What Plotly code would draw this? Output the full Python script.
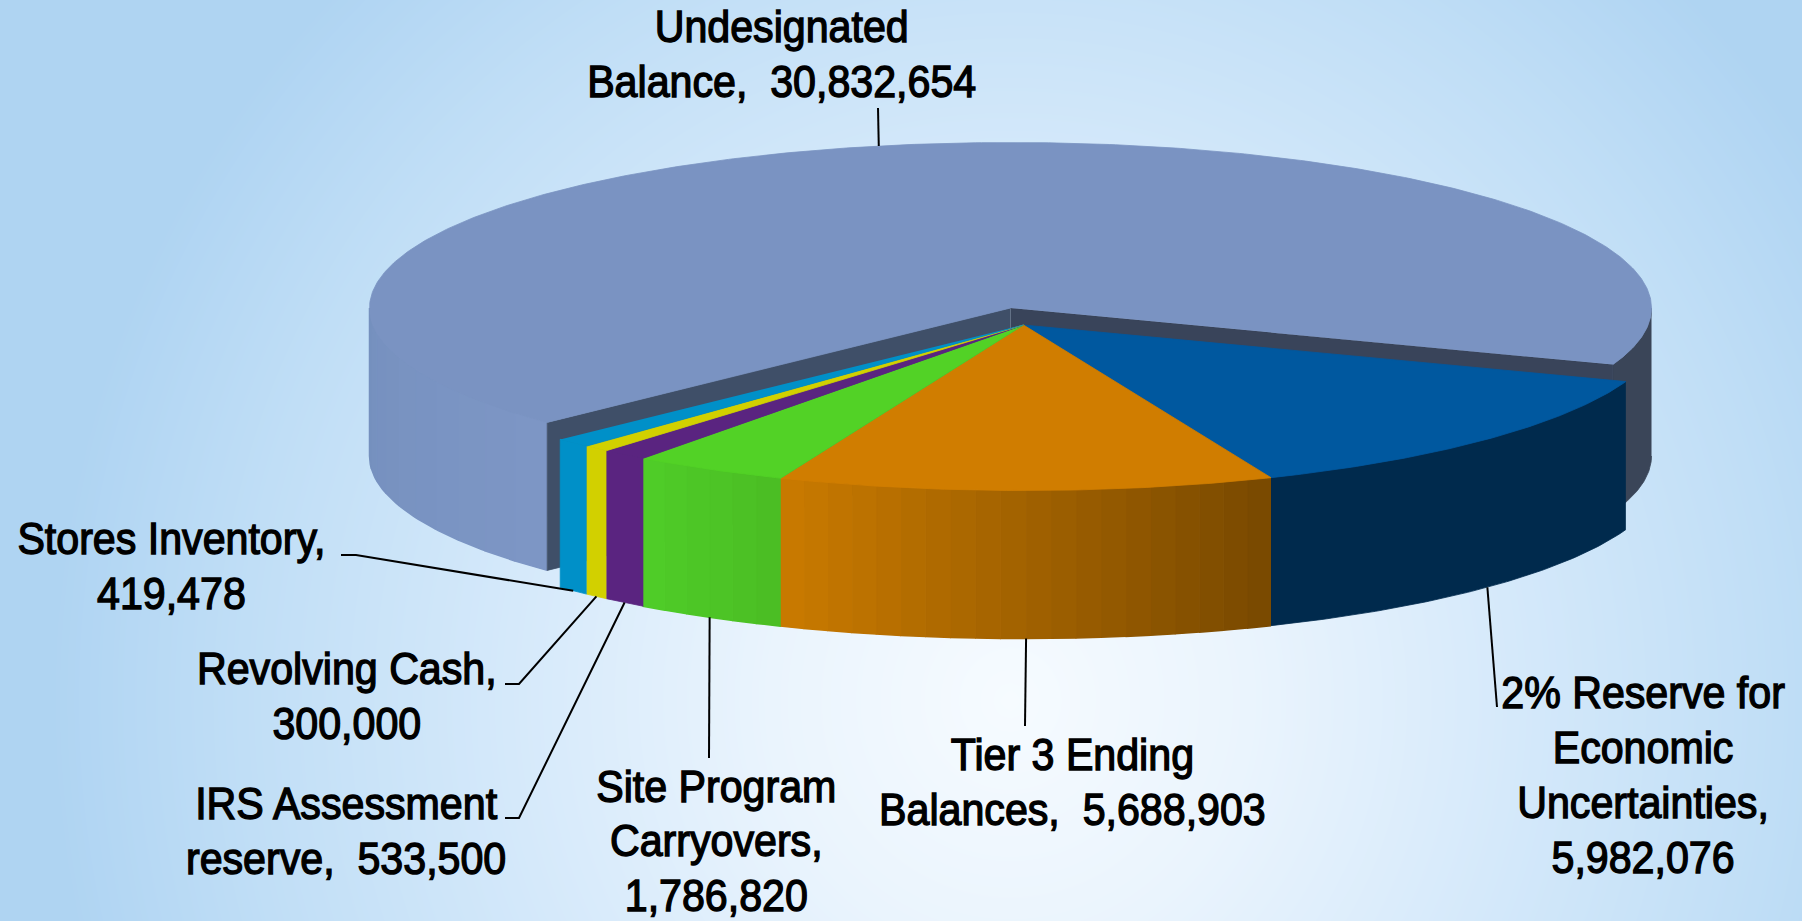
import math
import numpy as np
import plotly.graph_objects as go

# ---------- data ----------
categories = ["2% Reserve for Economic Uncertainties", "Tier 3 Ending Balances",
              "Site Program Carryovers", "IRS Assessment reserve", "Revolving Cash",
              "Stores Inventory", "Undesignated Balance"]
values = [5982076, 5688903, 1786820, 533500, 300000, 419478, 30832654]
label_text = ["2% Reserve for<br>Economic<br>Uncertainties,<br>{}",
              "Tier 3 Ending<br>Balances,\u00a0\u00a0{}",
              "Site Program<br>Carryovers,<br>{}",
              "IRS Assessment<br>reserve,\u00a0\u00a0{}",
              "Revolving Cash,<br>{}",
              "Stores Inventory,<br>{}",
              "Undesignated<br>Balance,\u00a0\u00a0{}"]

# ---------- styles and layout ----------
W, H = 1802, 921
top_colors = ["#00589F", "#D07D00", "#52D226", "#5A2480", "#D2D000", "#0090C8", "#7A93C2"]
wall_left = ["#002A4D", "#C87900", "#4FCC28", "#5A2480", "#D2D000", "#0090C8", "#7590BE"]
wall_right = ["#002A4D", "#7A4A00", "#4BBE24", "#5A2480", "#D2D000", "#0090C8", "#7D96C5"]
START = 20.0          # degrees, clockwise on screen from +x
RX, RY, DEPTH = 641.0, 165.5, 148.0
CENTER_REST = (1023.5, 325.0)
CENTER_BIG = (1010.5, 308.0)
CUT_L, CUT_R = "#3F4F68", "#39445A"
WALL_BIG_R = "#3A4558"
label_pos = [(1643, 775), (1072, 782), (716, 841), (346, 831), (347, 696), (171, 566), (781, 54)]
# elbow points of the leader lines, ending at the label side
elbows = [[(1497, 707)], [(1025, 726)], [(709, 758)],
          [(519, 818), (505, 818)], [(519, 684), (505, 684)], [(356, 555), (341, 555)],
          [(878, 108)]]

FONT = "Liberation Sans, Arial, sans-serif"
FONT_SIZE = 45
TEXT_SCALE = 0.915
TEXT_STROKE = 1.4
LINE_EM = 1.22


def rim(center, a_deg, depth=0.0):
    t = math.radians(a_deg)
    return center[0] + RX * math.cos(t), center[1] + RY * math.sin(t) + depth


def arc(center, a0, a1, depth=0.0, step=0.5):
    n = max(2, int(abs(a1 - a0) / step) + 1)
    pts = [rim(center, a, depth) for a in np.linspace(a0, a1, n)]
    return [p[0] for p in pts], [p[1] for p in pts]


def hex_mix(c0, c1, f):
    a = [int(c0[i:i + 2], 16) for i in (1, 3, 5)]
    b = [int(c1[i:i + 2], 16) for i in (1, 3, 5)]
    return "#%02X%02X%02X" % tuple(round(a[k] + (b[k] - a[k]) * f) for k in range(3))


fig = go.Figure()


def poly(xs, ys, color, width=0.8):
    fig.add_trace(go.Scatter(x=list(xs), y=list(ys), mode="lines", fill="toself",
                             fillcolor=color, line=dict(color=color, width=width),
                             hoverinfo="skip", showlegend=False))


def wall(center, a0, a1, c0, c1, bands=1):
    edges = np.linspace(a0, a1, bands + 1)
    for i in range(bands):
        x0, y0 = arc(center, edges[i], edges[i + 1])
        x1, y1 = arc(center, edges[i + 1], edges[i], DEPTH)
        poly(x0 + x1, y0 + y1, hex_mix(c0, c1, i / max(1, bands - 1)), width=1.5 if bands > 1 else 0.8)


# ---------- background ----------
gx = np.linspace(0, W, 181)
gy = np.linspace(0, H, 93)
XX, YY = np.meshgrid(gx, gy)
dist = np.clip(np.sqrt(((XX - 1010) / 960) ** 2 + ((YY - 700) / 1000) ** 2), 0, 1)
fig.add_trace(go.Heatmap(x=gx, y=gy, z=dist, zmin=0, zmax=1, showscale=False, hoverinfo="skip",
                         zsmooth="best",
                         colorscale=[[0, "#F6FBFF"], [0.25, "#EAF4FD"], [0.55, "#D3E8FA"],
                                     [0.8, "#C0DEF6"], [1, "#AFD4F2"]]))

# ---------- angles from the values ----------
total = sum(values)
angles = [START]
for v in values:
    angles.append(angles[-1] + v / total * 360.0)
big = len(values) - 1
a_big0, a_big1 = angles[big], angles[big + 1]

# ---------- undesignated slice (pulled away) ----------
wall(CENTER_BIG, a_big0, 180, wall_right[big], wall_left[big], bands=10)
wall(CENTER_BIG, 0, a_big1 - 360, WALL_BIG_R, WALL_BIG_R)
for ang, col in ((a_big0, CUT_L), (a_big1, CUT_R)):
    rx, ry = rim(CENTER_BIG, ang)
    poly([CENTER_BIG[0], rx, rx, CENTER_BIG[0]],
         [CENTER_BIG[1], ry, ry + DEPTH, CENTER_BIG[1] + DEPTH], col)
xs, ys = arc(CENTER_BIG, a_big0, a_big1)
poly([CENTER_BIG[0]] + xs, [CENTER_BIG[1]] + ys, top_colors[big])

# ---------- remaining slices ----------
for i in range(big):
    bands = 20 if i == 1 else (6 if i == 2 else 1)
    wall(CENTER_REST, angles[i], angles[i + 1], wall_right[i], wall_left[i], bands=bands)
for i in range(big):
    xs, ys = arc(CENTER_REST, angles[i], angles[i + 1])
    poly([CENTER_REST[0]] + xs, [CENTER_REST[1]] + ys, top_colors[i])

# ---------- leader lines and labels ----------
for i, cat in enumerate(categories):
    mid = (angles[i] + angles[i + 1]) / 2
    if i == big:
        ax, ay = rim(CENTER_BIG, mid)
    else:
        ax, ay = rim(CENTER_REST, mid, DEPTH)
    pts = [(ax, ay)] + elbows[i]
    fig.add_trace(go.Scatter(x=[p[0] for p in pts], y=[p[1] for p in pts], mode="lines",
                             line=dict(color="#000000", width=2), hoverinfo="skip",
                             showlegend=False, name=cat))
    fig.add_annotation(x=label_pos[i][0], y=label_pos[i][1], xref="x", yref="y",
                       text=label_text[i].format(f"{values[i]:,}"),
                       showarrow=False, align="center", xanchor="center", yanchor="middle",
                       font=dict(family=FONT, size=FONT_SIZE, color="#000000"))

fig.update_layout(width=W, height=H, margin=dict(l=0, r=0, t=0, b=0), showlegend=False,
                  paper_bgcolor="#BCDBF5", plot_bgcolor="rgba(0,0,0,0)",
                  xaxis=dict(range=[0, W], visible=False, fixedrange=True),
                  yaxis=dict(range=[H, 0], visible=False, fixedrange=True))

narrow_js = """
document.body.style.margin='0';document.body.style.overflow='hidden';
document.querySelectorAll('.annotation-text').forEach(function(t){
  var b0=t.getBBox(), cy0=b0.y+b0.height/2;
  t.querySelectorAll('tspan.line').forEach(function(l){
    var d=parseFloat(l.getAttribute('dy')||'0');
    l.setAttribute('dy',(d/1.3*%s)+'em');
  });
  var b=t.getBBox(), cx=b.x+b.width/2, cy=b.y+b.height/2, prev=t.getAttribute('transform')||'';
  t.setAttribute('transform', prev+' translate('+cx+','+(cy0-cy)+') scale(%s,1) translate('+(-cx)+',0)');
  t.style.stroke='#000'; t.style.strokeWidth='%spx';
});
""" % (LINE_EM, TEXT_SCALE, TEXT_STROKE)

fig.write_html("out.html", config={"displayModeBar": False}, post_script=narrow_js)
